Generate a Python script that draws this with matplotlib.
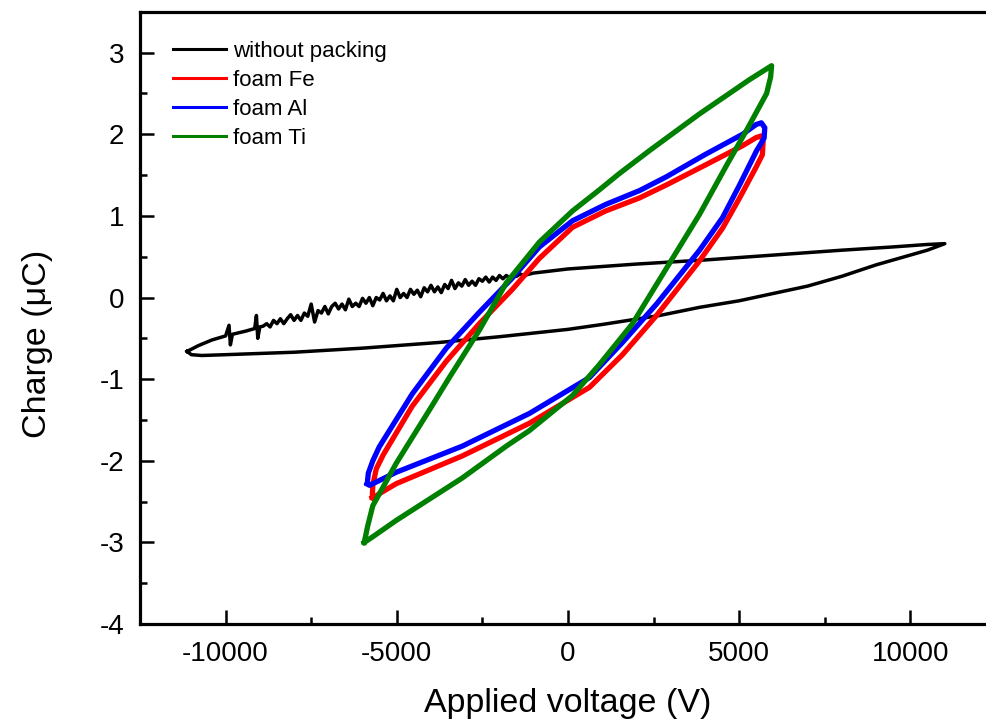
import matplotlib
matplotlib.use("Agg")
import matplotlib.pyplot as plt
from matplotlib.ticker import MultipleLocator

plt.rcParams['font.family'] = ['Liberation Sans', 'DejaVu Sans']
plt.rcParams['axes.unicode_minus'] = False

# ---- data (voltage in V, charge in uC) ----
# without packing: upper branch (left tip -> right tip), noisy on the left half
bare_up_v = [-11126, -10800, -10400, -10000, -9900, -9860, -9800, -9400, -9150, -9100,
             -9060, -9000, -8900,
             -8800, -8700, -8600, -8500, -8400, -8300, -8200, -8100, -8000, -7900,
             -7800, -7700, -7600, -7500, -7400, -7300, -7200, -7100, -7000, -6900,
             -6800, -6700, -6600, -6500, -6400, -6300, -6200, -6100, -6000, -5900,
             -5800, -5700, -5600, -5500, -5400, -5300, -5200, -5100, -5000, -4900,
             -4800, -4700, -4600, -4500, -4400, -4300, -4200, -4100, -4000, -3900,
             -3800, -3700, -3600, -3500, -3400, -3300, -3200, -3100, -3000, -2900,
             -2800, -2700, -2600, -2500, -2400, -2300, -2200, -2100, -2000, -1900,
             -1800, -1700, -1600, -1500, -1400, -1300,
             -1000, 0, 2000, 4000, 6000, 8000, 9500, 10500, 11009]
bare_up_q = [-0.66, -0.59, -0.52, -0.47, -0.34, -0.58, -0.45, -0.41, -0.38, -0.22,
             -0.50, -0.36, -0.35,
             -0.32, -0.36, -0.28, -0.32, -0.26, -0.32, -0.26, -0.21, -0.28, -0.22,
             -0.28, -0.19, -0.23, -0.08, -0.30, -0.16, -0.19, -0.11, -0.20, -0.11,
             -0.07, -0.14, -0.08, -0.15, -0.02, -0.11, -0.07, -0.11, -0.01, -0.07,
             0.00, -0.10, 0.00, -0.03, 0.05, -0.04, 0.02, -0.04, 0.10, 0.00,
             0.05, 0.00, 0.10, 0.04, 0.09, 0.01, 0.12, 0.07, 0.15, 0.07,
             0.13, 0.06, 0.16, 0.11, 0.21, 0.11, 0.18, 0.14, 0.22, 0.15,
             0.20, 0.15, 0.23, 0.20, 0.25, 0.19, 0.25, 0.21, 0.27, 0.23,
             0.27, 0.24, 0.28, 0.26, 0.29, 0.27,
             0.30, 0.35, 0.41, 0.46, 0.52, 0.58, 0.62, 0.65, 0.66]
# without packing: lower branch (right tip -> left tip)
bare_dn_v = [11009, 10500, 10000, 9000, 8000, 7000, 6000, 5000, 3845, 2676,
             1000, 0, -2000, -3757, -6000, -8000, -10000, -10700, -11000, -11126]
bare_dn_q = [0.66, 0.58, 0.52, 0.40, 0.26, 0.14, 0.05, -0.04, -0.12, -0.22,
             -0.33, -0.39, -0.48, -0.55, -0.62, -0.67, -0.70, -0.71, -0.70, -0.66]

# foam Fe loop
fe_v = [-5716, -5700, -5600, -5400, -4547, -3553, -2588, -1623, -833, 132,
        1100, 2091, 2880, 4000, 5102, 5500, 5650, 5700,
        5680, 5500, 5015, 4518, 3845, 2588, 1594, 629, -1126, -3085,
        -5015, -5500, -5700, -5716]
fe_q = [-2.45, -2.30, -2.10, -1.93, -1.33, -0.78, -0.32, 0.10, 0.48, 0.86,
        1.06, 1.22, 1.38, 1.62, 1.86, 1.96, 1.98, 1.90,
        1.75, 1.60, 1.22, 0.85, 0.45, -0.22, -0.70, -1.10, -1.54, -1.94,
        -2.28, -2.40, -2.46, -2.45]

# foam Al loop
al_v = [-5863, -5830, -5700, -5512, -4547, -3553, -2588, -1623, -833, 132,
        1100, 2091, 2880, 4000, 5102, 5500, 5650, 5750,
        5730, 5512, 5015, 4518, 3845, 2588, 1594, 629, -1126, -3085,
        -5015, -5600, -5800, -5863]
al_q = [-2.28, -2.15, -2.00, -1.83, -1.18, -0.62, -0.18, 0.24, 0.62, 0.94,
        1.14, 1.31, 1.48, 1.75, 2.00, 2.12, 2.14, 2.08,
        1.95, 1.80, 1.38, 0.98, 0.58, -0.08, -0.55, -0.98, -1.42, -1.82,
        -2.14, -2.26, -2.30, -2.28]

# foam Ti loop
ti_v = [-5950, -5850, -5700, -5015, -4050, -3465, -2588, -1800, -833, 132,
        921, 1506, 2383, 3845, 5307, 5800, 5950,
        5920, 5804, 5219, 4635, 3845, 2880, 1886, 921, 132, -1126,
        -1800, -3085, -5015, -5700, -5950]
ti_q = [-3.00, -2.80, -2.55, -2.03, -1.38, -0.98, -0.40, 0.18, 0.68, 1.06,
        1.32, 1.52, 1.80, 2.25, 2.67, 2.80, 2.84,
        2.70, 2.50, 2.05, 1.62, 1.02, 0.36, -0.32, -0.82, -1.20, -1.63,
        -1.82, -2.21, -2.73, -2.93, -3.00]

fig = plt.figure(figsize=(9.86, 7.24), dpi=100)
ax = fig.add_axes([0.142, 0.138, 0.868, 0.8457])

ax.plot(bare_up_v + bare_dn_v, bare_up_q + bare_dn_q, color='black', lw=2.5, label='without packing')
ax.plot(fe_v, fe_q, color='#ff0000', lw=3.8, label='foam Fe')
ax.plot(al_v, al_q, color='#0000ff', lw=3.8, label='foam Al')
ax.plot(ti_v, ti_q, color='#008000', lw=3.8, label='foam Ti')

ax.set_xlim(-12500, 12500)
ax.set_ylim(-4, 3.5)
ax.xaxis.set_major_locator(MultipleLocator(5000))
ax.xaxis.set_minor_locator(MultipleLocator(2500))
ax.yaxis.set_major_locator(MultipleLocator(1))
ax.yaxis.set_minor_locator(MultipleLocator(0.5))
ax.tick_params(which='both', direction='in', width=1.8, top=False, right=False)
ax.tick_params(which='major', length=10, labelsize=20)
ax.tick_params(axis='x', which='major', pad=12)
ax.tick_params(axis='y', which='major', pad=11.5)
ax.tick_params(which='minor', length=5)
for sp in ax.spines.values():
    sp.set_linewidth(2.3)

ax.set_xlabel('Applied voltage (V)', fontsize=24.5)
ax.set_ylabel('Charge (\u03bcC)', fontsize=24.5)
ax.xaxis.set_label_coords(0.5, -0.1045)
ax.yaxis.set_label_coords(-0.1016, 0.458)

leg = ax.legend(loc='upper left', bbox_to_anchor=(0.0386, 0.952), frameon=False,
                fontsize=16, handlelength=2.4, handletextpad=0.3,
                labelspacing=0.36, borderpad=0, borderaxespad=0)
for h in leg.get_lines():
    h.set_linewidth(2.2)

fig.savefig('out.png', dpi=100)
